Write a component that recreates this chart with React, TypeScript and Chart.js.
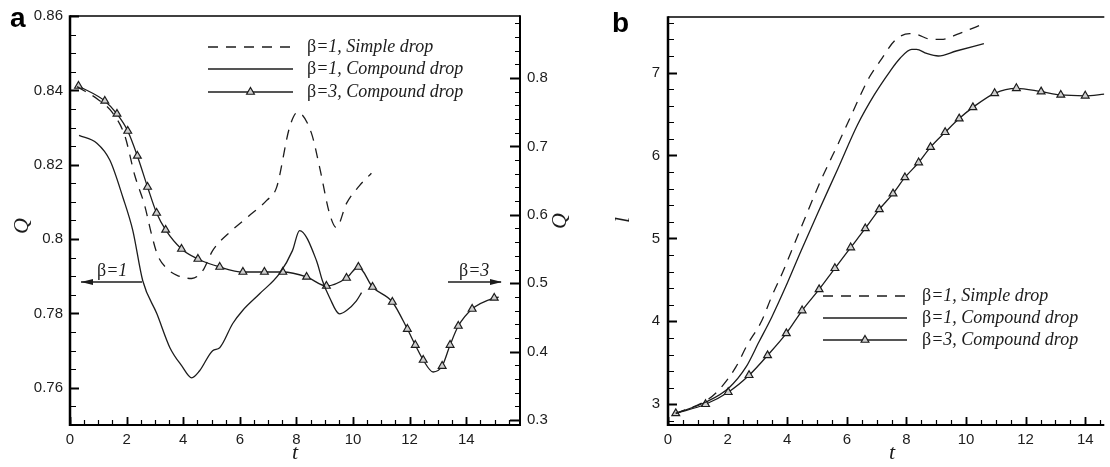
import React, { useEffect, useRef } from 'react';
import { Chart, registerables } from 'chart.js';
Chart.register(...registerables);

// ---------- Panel a data ----------
const A_SIMPLE_T = [0.25, 1.0, 1.5, 1.94, 2.29, 2.64, 2.89, 3.1, 3.42, 3.8, 4.3, 4.69, 5.04, 5.64, 6.3, 6.95, 7.3, 7.76, 8.04, 8.53, 8.82, 9.17, 9.41, 9.77, 10.23, 10.65];
const A_SIMPLE_Q = [0.841, 0.8375, 0.834, 0.8277, 0.8171, 0.809, 0.801, 0.7956, 0.7921, 0.7902, 0.7894, 0.7915, 0.7969, 0.8018, 0.8061, 0.8104, 0.8139, 0.8301, 0.8341, 0.8285, 0.8193, 0.8069, 0.8031, 0.8096, 0.8144, 0.8177];

const A_COMP_T = [0.32, 0.95, 1.41, 1.87, 2.22, 2.57, 3.07, 3.53, 3.95, 4.3, 4.58, 5.04, 5.29, 5.75, 6.1, 6.7, 7.4, 7.86, 8.11, 8.71, 8.92, 9.17, 9.52, 9.77, 10.12, 10.3];
const A_COMP_Q = [0.8279, 0.8258, 0.8212, 0.8112, 0.8023, 0.7888, 0.7799, 0.7708, 0.7659, 0.7627, 0.7646, 0.77, 0.7708, 0.7773, 0.7808, 0.7853, 0.7907, 0.7969, 0.8023, 0.7942, 0.7888, 0.7843, 0.7799, 0.7808, 0.7834, 0.7856];

const A_B3_T = [0.3, 1.23, 1.66, 2.04, 2.38, 2.74, 3.06, 3.38, 3.94, 4.52, 5.29, 6.11, 6.87, 7.52, 8.36, 9.06, 9.77, 10.19, 10.69, 11.39, 11.92, 12.2, 12.48, 12.83, 13.15, 13.43, 13.72, 14.21, 14.99, 15.15];
const A_B3_Q = [0.7883, 0.7664, 0.7474, 0.7225, 0.686, 0.6406, 0.6026, 0.5778, 0.55, 0.5354, 0.5237, 0.5164, 0.5164, 0.5164, 0.5091, 0.4959, 0.5076, 0.5237, 0.4944, 0.4725, 0.433, 0.4096, 0.3877, 0.3702, 0.3789, 0.4096, 0.4374, 0.4623, 0.4784, 0.4795];
const A_B3_UNMARKED_T = [12.83, 15.15];

const A_X_TICKS = [0, 2, 4, 6, 8, 10, 12, 14];
const A_X_LABELS = ['0', '2', '4', '6', '8', '10', '12', '14'];
const A_L_TICKS = [0.76, 0.78, 0.8, 0.82, 0.84, 0.86];
const A_L_LABELS = ['0.76', '0.78', '0.8', '0.82', '0.84', '0.86'];
const A_R_TICKS = [0.3, 0.4, 0.5, 0.6, 0.7, 0.8];
const A_R_LABELS = ['0.3', '0.4', '0.5', '0.6', '0.7', '0.8'];

// ---------- Panel b data ----------
const B_SIMPLE_T = [0.26, 1.26, 1.7, 2.28, 2.65, 3.15, 3.48, 3.87, 4.27, 5.13, 5.76, 6.13, 6.75, 7.12, 7.62, 8.11, 8.34, 8.84, 9.17, 9.77, 10.6];
const B_SIMPLE_L = [2.89, 3.04, 3.17, 3.45, 3.71, 4.01, 4.3, 4.61, 4.96, 5.7, 6.18, 6.47, 6.94, 7.14, 7.39, 7.47, 7.46, 7.4, 7.4, 7.47, 7.59];

const B_COMP_T = [0.26, 1.29, 2.05, 2.62, 3.05, 3.48, 3.94, 4.47, 5.03, 5.7, 6.36, 6.92, 7.42, 7.78, 8.18, 8.34, 8.68, 9.07, 9.67, 10.6];
const B_COMP_L = [2.89, 3.03, 3.2, 3.45, 3.75, 4.05, 4.41, 4.855, 5.31, 5.84, 6.37, 6.73, 7.0, 7.17, 7.28, 7.28, 7.23, 7.2, 7.26, 7.35];

const B_B3_T = [0.26, 1.26, 2.02, 2.72, 3.34, 3.97, 4.5, 5.07, 5.6, 6.13, 6.62, 7.09, 7.55, 7.95, 8.41, 8.81, 9.3, 9.77, 10.23, 10.96, 11.69, 12.52, 13.18, 14.0, 14.64];
const B_B3_L = [2.89, 3.0, 3.145, 3.35, 3.59, 3.855, 4.13, 4.385, 4.64, 4.89, 5.12, 5.35, 5.54, 5.735, 5.915, 6.1, 6.28, 6.445, 6.58, 6.75, 6.81, 6.77, 6.73, 6.72, 6.74];
const B_B3_UNMARKED_T = [14.64];

const B_X_TICKS = [0, 2, 4, 6, 8, 10, 12, 14];
const B_X_LABELS = ['0', '2', '4', '6', '8', '10', '12', '14'];
const B_Y_TICKS = [3, 4, 5, 6, 7];
const B_Y_LABELS = ['3', '4', '5', '6', '7'];

const LEGEND_LABELS = ['β=1, Simple drop', 'β=1, Compound drop', 'β=3, Compound drop'];

// ---------- styling ----------
const SERIF = '"Liberation Serif", "DejaVu Serif", serif';
const SANS = '"Liberation Sans", Arial, sans-serif';
const INK = '#1c1c1c';
const DASH = [10, 8];

function pts(xs: number[], ys: number[]) {
  return xs.map((x, i) => ({ x, y: ys[i] }));
}
function steps(a: number, b: number, step: number) {
  const out: number[] = [];
  for (let k = 0; a + k * step <= b + 1e-9; k++) out.push(+(a + k * step).toFixed(6));
  return out;
}

function betaText(ctx: CanvasRenderingContext2D, label: string, x: number, y: number, size: number) {
  ctx.save();
  ctx.fillStyle = INK;
  ctx.textAlign = 'left';
  ctx.textBaseline = 'alphabetic';
  ctx.font = `${size}px ${SERIF}`;
  ctx.fillText(label[0], x, y);
  const w = ctx.measureText(label[0]).width;
  ctx.font = `italic ${size}px ${SERIF}`;
  ctx.fillText(label.slice(1), x + w, y);
  ctx.restore();
}

function triangle(ctx: CanvasRenderingContext2D, x: number, y: number, r: number) {
  ctx.save();
  ctx.fillStyle = '#cfcfcf';
  ctx.strokeStyle = INK;
  ctx.lineWidth = 1.2;
  ctx.setLineDash([]);
  ctx.beginPath();
  let rad = 0;
  ctx.moveTo(x + Math.sin(rad) * r, y - Math.cos(rad) * r);
  rad += (2 * Math.PI) / 3;
  ctx.lineTo(x + Math.sin(rad) * r, y - Math.cos(rad) * r);
  rad += (2 * Math.PI) / 3;
  ctx.lineTo(x + Math.sin(rad) * r, y - Math.cos(rad) * r);
  ctx.closePath();
  ctx.fill();
  ctx.stroke();
  ctx.restore();
}

function tickMarks(ctx: CanvasRenderingContext2D, scale: any, area: any, values: number[], len: number, side: string) {
  ctx.beginPath();
  for (const v of values) {
    if (v < scale.min - 1e-9 || v > scale.max + 1e-9) continue;
    const p = Math.round(scale.getPixelForValue(v)) + 0.5;
    if (side === 'bottom') {
      ctx.moveTo(p, area.bottom);
      ctx.lineTo(p, area.bottom - len);
    } else if (side === 'left') {
      ctx.moveTo(area.left, p);
      ctx.lineTo(area.left + len, p);
    } else {
      ctx.moveTo(area.right, p);
      ctx.lineTo(area.right - len, p);
    }
  }
  ctx.stroke();
}

function line(ctx: CanvasRenderingContext2D, x1: number, y1: number, x2: number, y2: number, w: number) {
  ctx.lineWidth = w;
  ctx.beginPath();
  ctx.moveTo(x1, y1);
  ctx.lineTo(x2, y2);
  ctx.stroke();
}

function drawLegend(ctx: CanvasRenderingContext2D, chart: any, x0: number, x1: number, ys: number[], tx: number) {
  chart.data.datasets.forEach((ds: any, i: number) => {
    const y = ys[i];
    ctx.save();
    ctx.strokeStyle = ds.borderColor;
    ctx.lineWidth = ds.borderWidth;
    ctx.setLineDash(ds.borderDash || []);
    ctx.beginPath();
    ctx.moveTo(x0, y);
    ctx.lineTo(x1, y);
    ctx.stroke();
    ctx.restore();
    if (ds.pointStyle === 'triangle') triangle(ctx, (x0 + x1) / 2, y, 4.5);
    betaText(ctx, ds.label, tx, y + 5, 18);
  });
}

function title(ctx: CanvasRenderingContext2D, text: string, x: number, y: number, rot: number, size: number) {
  ctx.save();
  ctx.translate(x, y);
  ctx.rotate(rot);
  ctx.fillStyle = INK;
  ctx.font = `italic ${size}px ${SERIF}`;
  ctx.textAlign = 'center';
  ctx.textBaseline = 'middle';
  ctx.fillText(text, 0, 0);
  ctx.restore();
}

function panelLabel(ctx: CanvasRenderingContext2D, text: string, x: number, y: number) {
  ctx.save();
  ctx.fillStyle = '#000';
  ctx.font = `bold 28px ${SANS}`;
  ctx.textAlign = 'left';
  ctx.textBaseline = 'alphabetic';
  ctx.fillText(text, x, y);
  ctx.restore();
}

const tickFont = { family: SANS, size: 15 };

function fixedTicks(values: number[]) {
  return (s: any) => {
    s.ticks = values.map((v) => ({ value: v }));
  };
}

function markerRadius(unmarked: number[]) {
  return (c: any) => {
    const raw = c.raw;
    if (!raw) return 4.5;
    return unmarked.some((u) => Math.abs(u - raw.x) < 1e-6) ? 0 : 4.5;
  };
}

function buildA(canvas: HTMLCanvasElement) {
  const plugin = {
    id: 'frameA',
    afterDraw(chart: any) {
      const { ctx, chartArea: a, scales } = chart;
      ctx.save();
      ctx.strokeStyle = '#000';
      ctx.setLineDash([]);
      line(ctx, a.left, a.top, a.right, a.top, 1.5);
      line(ctx, a.left, a.top - 0.75, a.left, a.bottom + 1, 2.5);
      line(ctx, a.left - 1, a.bottom, a.right + 1, a.bottom, 2);
      line(ctx, a.right, a.top - 0.75, a.right, a.bottom + 1, 2);
      ctx.lineWidth = 1.2;
      tickMarks(ctx, scales.x, a, steps(0, 15.5, 0.5), 5, 'bottom');
      ctx.lineWidth = 1.8;
      tickMarks(ctx, scales.x, a, A_X_TICKS, 8, 'bottom');
      ctx.lineWidth = 1.2;
      tickMarks(ctx, scales.yL, a, steps(0.75, 0.86, 0.005), 6, 'left');
      ctx.lineWidth = 1.8;
      tickMarks(ctx, scales.yL, a, A_L_TICKS, 9, 'left');
      ctx.lineWidth = 1.2;
      tickMarks(ctx, scales.yR, a, steps(0.3, 0.88, 0.02), 5, 'right');
      ctx.lineWidth = 1.8;
      tickMarks(ctx, scales.yR, a, A_R_TICKS, 10, 'right');
      ctx.restore();

      drawLegend(ctx, chart, 208, 293, [47, 69, 92], 307);

      ctx.save();
      ctx.strokeStyle = INK;
      ctx.fillStyle = INK;
      betaText(ctx, 'β=1', 97, 276, 18);
      line(ctx, 142, 282, 81, 282, 1.3);
      ctx.beginPath();
      ctx.moveTo(81, 282);
      ctx.lineTo(93, 279);
      ctx.lineTo(93, 285);
      ctx.closePath();
      ctx.fill();
      betaText(ctx, 'β=3', 459, 276, 18);
      line(ctx, 448, 282, 501, 282, 1.3);
      ctx.beginPath();
      ctx.moveTo(502, 282);
      ctx.lineTo(490, 279);
      ctx.lineTo(490, 285);
      ctx.closePath();
      ctx.fill();
      ctx.restore();

      title(ctx, 'Q', 22, 226, -Math.PI / 2, 22);
      title(ctx, 'Q', 560, 221, -Math.PI / 2, 22);
      title(ctx, 't', 295, 453, 0, 22);
      panelLabel(ctx, 'a', 10, 27);
    },
  };

  return new Chart(canvas, {
    type: 'line',
    data: {
      datasets: [
        {
          label: LEGEND_LABELS[0],
          data: pts(A_SIMPLE_T, A_SIMPLE_Q),
          yAxisID: 'yL',
          borderColor: INK,
          borderWidth: 1.3,
          borderDash: DASH,
          pointRadius: 0,
          cubicInterpolationMode: 'monotone',
          fill: false,
        },
        {
          label: LEGEND_LABELS[1],
          data: pts(A_COMP_T, A_COMP_Q),
          yAxisID: 'yL',
          borderColor: INK,
          borderWidth: 1.3,
          pointRadius: 0,
          cubicInterpolationMode: 'monotone',
          fill: false,
        },
        {
          label: LEGEND_LABELS[2],
          data: pts(A_B3_T, A_B3_Q),
          yAxisID: 'yR',
          borderColor: INK,
          borderWidth: 1.3,
          pointStyle: 'triangle',
          pointRadius: markerRadius(A_B3_UNMARKED_T),
          pointBackgroundColor: '#cfcfcf',
          pointBorderColor: INK,
          pointBorderWidth: 1.2,
          cubicInterpolationMode: 'monotone',
          fill: false,
        },
      ],
    } as any,
    options: {
      animation: false,
      responsive: false,
      maintainAspectRatio: false,
      devicePixelRatio: 1,
      layout: { padding: { top: 16, left: 0, right: 0, bottom: 0 } },
      plugins: { legend: { display: false }, tooltip: { enabled: false } },
      scales: {
        x: {
          type: 'linear',
          position: 'bottom',
          min: 0,
          max: 15.9,
          grid: { display: false, drawTicks: false },
          border: { display: false },
          ticks: { font: tickFont, color: INK, padding: 6, maxRotation: 0, callback: (_v: any, i: number) => A_X_LABELS[i] },
          afterBuildTicks: fixedTicks(A_X_TICKS),
          afterFit: (s: any) => { s.height = 42; },
        },
        yL: {
          type: 'linear',
          position: 'left',
          min: 0.75,
          max: 0.86,
          grid: { display: false, drawTicks: false },
          border: { display: false },
          ticks: { font: tickFont, color: INK, padding: 7, callback: (_v: any, i: number) => A_L_LABELS[i] },
          afterBuildTicks: fixedTicks(A_L_TICKS),
          afterFit: (s: any) => { s.width = 70; },
        },
        yR: {
          type: 'linear',
          position: 'right',
          min: 0.2927,
          max: 0.8906,
          grid: { display: false, drawTicks: false },
          border: { display: false },
          ticks: { font: tickFont, color: INK, padding: 7, callback: (_v: any, i: number) => A_R_LABELS[i] },
          afterBuildTicks: fixedTicks(A_R_TICKS),
          afterFit: (s: any) => { s.width = 60; },
        },
      },
    } as any,
    plugins: [plugin],
  });
}

function buildB(canvas: HTMLCanvasElement) {
  const plugin = {
    id: 'frameB',
    afterDraw(chart: any) {
      const { ctx, chartArea: a, scales } = chart;
      ctx.save();
      ctx.strokeStyle = '#000';
      ctx.setLineDash([]);
      line(ctx, a.left, a.top, a.right, a.top, 1.5);
      line(ctx, a.left, a.top - 0.75, a.left, a.bottom + 1, 2.5);
      line(ctx, a.left - 1, a.bottom, a.right, a.bottom, 2);
      ctx.lineWidth = 1.2;
      tickMarks(ctx, scales.x, a, steps(0, 14.5, 0.5), 5, 'bottom');
      ctx.lineWidth = 1.8;
      tickMarks(ctx, scales.x, a, B_X_TICKS, 8, 'bottom');
      ctx.lineWidth = 1.2;
      tickMarks(ctx, scales.y, a, steps(2.8, 7.6, 0.2), 6, 'left');
      ctx.lineWidth = 1.8;
      tickMarks(ctx, scales.y, a, B_Y_TICKS, 9, 'left');
      ctx.restore();

      drawLegend(ctx, chart, 263, 347, [296, 318, 340], 362);
      title(ctx, 'l', 63, 220, -Math.PI / 2, 22);
      title(ctx, 't', 332, 453, 0, 22);
      panelLabel(ctx, 'b', 52, 32);
    },
  };

  return new Chart(canvas, {
    type: 'line',
    data: {
      datasets: [
        {
          label: LEGEND_LABELS[0],
          data: pts(B_SIMPLE_T, B_SIMPLE_L),
          borderColor: INK,
          borderWidth: 1.3,
          borderDash: DASH,
          pointRadius: 0,
          cubicInterpolationMode: 'monotone',
          fill: false,
        },
        {
          label: LEGEND_LABELS[1],
          data: pts(B_COMP_T, B_COMP_L),
          borderColor: INK,
          borderWidth: 1.3,
          pointRadius: 0,
          cubicInterpolationMode: 'monotone',
          fill: false,
        },
        {
          label: LEGEND_LABELS[2],
          data: pts(B_B3_T, B_B3_L),
          borderColor: INK,
          borderWidth: 1.3,
          pointStyle: 'triangle',
          pointRadius: markerRadius(B_B3_UNMARKED_T),
          pointBackgroundColor: '#cfcfcf',
          pointBorderColor: INK,
          pointBorderWidth: 1.2,
          cubicInterpolationMode: 'monotone',
          fill: false,
        },
      ],
    } as any,
    options: {
      animation: false,
      responsive: false,
      maintainAspectRatio: false,
      devicePixelRatio: 1,
      layout: { padding: { top: 16, left: 0, right: 0, bottom: 0 } },
      plugins: { legend: { display: false }, tooltip: { enabled: false } },
      scales: {
        x: {
          type: 'linear',
          position: 'bottom',
          min: 0,
          max: 14.64,
          grid: { display: false, drawTicks: false },
          border: { display: false },
          ticks: { font: tickFont, color: INK, padding: 6, maxRotation: 0, callback: (_v: any, i: number) => B_X_LABELS[i] },
          afterBuildTicks: fixedTicks(B_X_TICKS),
          afterFit: (s: any) => { s.height = 42; },
        },
        y: {
          type: 'linear',
          position: 'left',
          min: 2.75,
          max: 7.67,
          grid: { display: false, drawTicks: false },
          border: { display: false },
          ticks: { font: tickFont, color: INK, padding: 8, callback: (_v: any, i: number) => B_Y_LABELS[i] },
          afterBuildTicks: fixedTicks(B_Y_TICKS),
          afterFit: (s: any) => { s.width = 108; },
        },
      },
    } as any,
    plugins: [plugin],
  });
}

export default function App() {
  const refA = useRef<HTMLCanvasElement | null>(null);
  const refB = useRef<HTMLCanvasElement | null>(null);
  useEffect(() => {
    const a = buildA(refA.current!);
    const b = buildB(refB.current!);
    return () => {
      a.destroy();
      b.destroy();
    };
  }, []);
  return (
    <div style={{ position: 'absolute', left: 0, top: 0, width: 1110, height: 467, background: '#fff', overflow: 'hidden' }}>
      <canvas ref={refA} width={580} height={467} style={{ position: 'absolute', left: 0, top: 0, width: 580, height: 467 }} />
      <canvas ref={refB} width={550} height={467} style={{ position: 'absolute', left: 560, top: 0, width: 550, height: 467 }} />
    </div>
  );
}
